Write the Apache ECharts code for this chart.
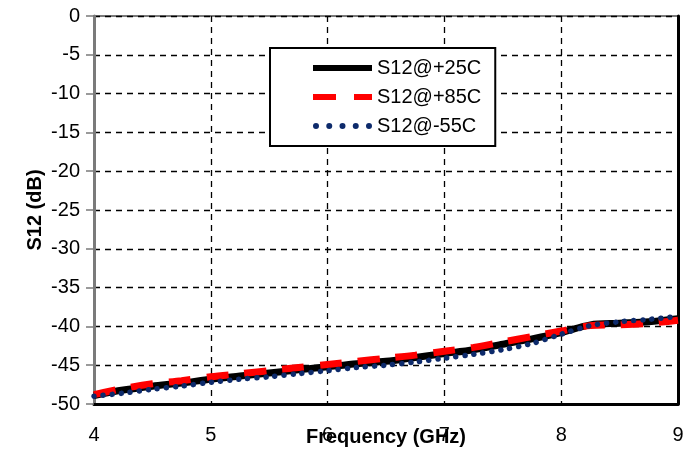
<!DOCTYPE html>
<html>
<head>
<meta charset="utf-8">
<script src="https://cdn.jsdelivr.net/npm/echarts@6/dist/echarts.min.js"></script>
<style>html,body{margin:0;padding:0;background:#fff;}#c{width:699px;height:450px;}</style>
</head>
<body>
<div id="c"></div>
<script>
const freq = [4.0,4.25,4.5,4.75,5.0,5.25,5.5,5.75,6.0,6.25,6.5,6.75,7.0,7.25,7.5,7.75,8.0,8.25,8.5,8.75,9.0];
const s25 = [-48.9,-48.2,-47.7,-47.3,-46.8,-46.4,-46.0,-45.6,-45.2,-44.8,-44.5,-44.0,-43.5,-43.0,-42.3,-41.6,-40.8,-39.8,-39.6,-39.4,-39.0];
const s85 = [-48.8,-48.0,-47.4,-47.0,-46.5,-46.1,-45.7,-45.3,-44.9,-44.5,-44.1,-43.7,-43.2,-42.7,-42.0,-41.3,-40.6,-39.9,-39.8,-39.6,-39.2];
const sm55 = [-49.0,-48.6,-48.1,-47.7,-47.2,-46.8,-46.5,-46.1,-45.7,-45.3,-45.0,-44.6,-44.1,-43.6,-43.0,-42.2,-41.0,-39.9,-39.4,-39.1,-38.7];
const names = ['S12@+25C','S12@+85C','S12@-55C'];
const pair = (ys) => freq.map((f,i)=>[f, ys[i]]);

const dot = (cx) => `M${cx-3},3 a3,3 0 1,0 6,0 a3,3 0 1,0 -6,0 z`;
const iconSolid = 'path://M0,0 L59,0 L59,6 L0,6 Z';
const iconDash = 'path://M0,0 L23,0 L23,6 L0,6 Z M41,0 L59,0 L59,6 L41,6 Z';
const iconDots = 'path://' + [3, 16.25, 29.5, 42.75, 56].map(dot).join(' ');

const chart = echarts.init(document.getElementById('c'));
const font = 'Liberation Sans, Arial, sans-serif';
chart.setOption({
  animation: false,
  backgroundColor: '#fff',
  grid: {left: 94, right: 21, top: 16, bottom: 46, containLabel: false, outerBoundsMode: 'none',
         show: true, borderColor: '#7a7a7a', borderWidth: 2, backgroundColor: 'transparent'},
  legend: {
    orient: 'vertical', left: 270, top: 48,
    padding: [10, 14, 10, 43], itemGap: 9,
    itemWidth: 59, itemHeight: 6,
    backgroundColor: '#fff', borderColor: '#000', borderWidth: 2,
    textStyle: {fontFamily: font, fontSize: 20, color: '#000', lineHeight: 20},
    data: [
      {name: names[0], icon: iconSolid},
      {name: names[1], icon: iconDash},
      {name: names[2], icon: iconDots}
    ]
  },
  xAxis: {
    type: 'value', min: 4, max: 9, interval: 1,
    name: 'Frequency (GHz)', nameLocation: 'middle', nameGap: 23, nameMoveOverlap: false,
    nameTextStyle: {fontFamily: font, fontSize: 20, fontWeight: 'bold', color: '#000'},
    axisLine: {show: true, onZero: false, lineStyle: {color: '#000', width: 3}},
    axisTick: {show: false},
    axisLabel: {fontFamily: font, fontSize: 20, color: '#000', margin: 21},
    splitLine: {show: true, lineStyle: {color: '#000', type: [6, 5], width: 1.3}}
  },
  yAxis: [{
    type: 'value', min: -50, max: 0, interval: 5,
    name: 'S12 (dB)', nameLocation: 'middle', nameGap: 49, nameMoveOverlap: false,
    nameTextStyle: {fontFamily: font, fontSize: 20, fontWeight: 'bold', color: '#000'},
    axisLine: {show: true, lineStyle: {color: '#7a7a7a', width: 3}},
    axisTick: {show: true, length: 8, lineStyle: {color: '#7a7a7a', width: 1.5}},
    axisLabel: {fontFamily: font, fontSize: 20, color: '#000', margin: 14},
    splitLine: {show: true, lineStyle: {color: '#000', type: [6, 5], width: 1.3}}
  }, {
    type: 'value', min: -50, max: 0, interval: 5, position: 'right',
    axisLine: {show: true, lineStyle: {color: '#000', width: 3}},
    axisTick: {show: false}, axisLabel: {show: false}, splitLine: {show: false}
  }],
  series: [
    {name: names[0], type: 'line', data: pair(s25), symbol: 'none', smooth: 0.3,
     lineStyle: {color: '#000', width: 7}, itemStyle: {color: '#000'}},
    {name: names[1], type: 'line', data: pair(s85), symbol: 'none', smooth: 0.3,
     lineStyle: {color: '#ff0000', width: 7, type: [22, 16]}, itemStyle: {color: '#ff0000'}},
    {name: names[2], type: 'line', data: pair(sm55), symbol: 'none', smooth: 0.3,
     lineStyle: {color: '#0d2a6b', width: 5.5, type: [0.1, 9], cap: 'round'}, itemStyle: {color: '#0d2a6b'}}
  ]
});
</script>
</body>
</html>
